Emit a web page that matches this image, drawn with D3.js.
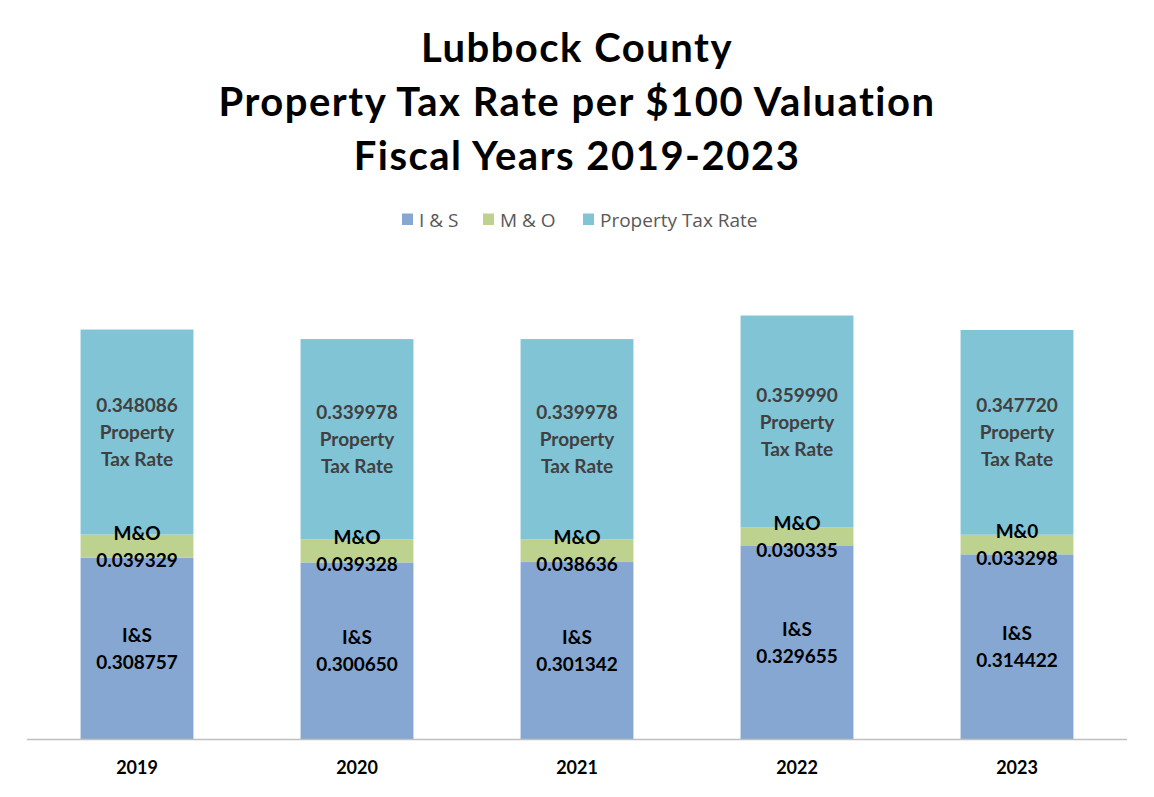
<!DOCTYPE html>
<html><head><meta charset="utf-8">
<script src="https://cdn.jsdelivr.net/npm/d3@7"></script>
<style>body{margin:0;background:#fff}svg{display:block}</style>
</head><body><svg id="c" width="1154" height="797"></svg>
<script>
const years = ["2019","2020","2021","2022","2023"];
const isValues = [0.308757, 0.300650, 0.301342, 0.329655, 0.314422];
const moValues = [0.039329, 0.039328, 0.038636, 0.030335, 0.033298];
const rateValues = [0.348086, 0.339978, 0.339978, 0.359990, 0.347720];
const moLabelNames = ["M&O","M&O","M&O","M&O","M&0"];
const seriesNames = ["I & S","M & O","Property Tax Rate"];
const seriesKeys = ["is","mo","rate"];
const colors = ["#85A7D2","#BCD28E","#80C4D6"];
const titleLines = ["Lubbock County","Property Tax Rate per $100 Valuation","Fiscal Years 2019-2023"];

const font = "Lato, 'Open Sans', sans-serif";
const svg = d3.select("#c");
const rows = years.map((y,i)=>({year:y, is:isValues[i], mo:moValues[i], rate:rateValues[i], moName:moLabelNames[i]}));
const stack = d3.stack().keys(seriesKeys)(rows);

const x = d3.scaleBand().domain(years).range([27,1127]).paddingInner(0.487).paddingOuter(0.2435);
const y = d3.scaleLinear().domain([0,0.8]).range([739.5,268.4]);

// title
svg.append("g").selectAll("text").data(titleLines).join("text")
  .attr("x",577).attr("y",(d,i)=>62+i*54).attr("text-anchor","middle")
  .attr("font-family",font).attr("font-weight","bold").attr("font-size",40)
  .attr("letter-spacing",1.5).attr("fill","#000")
  .text(d=>d);

// legend
const legItems = [{x:402},{x:483},{x:583}];
const leg = svg.append("g");
seriesNames.forEach((n,i)=>{
  leg.append("rect").attr("x",legItems[i].x).attr("y",213.5).attr("width",11).attr("height",11.5).attr("fill",colors[i]);
  leg.append("text").attr("x",legItems[i].x+17).attr("y",226.5).attr("font-family","'Open Sans', sans-serif")
    .attr("font-size",19).attr("fill","#595959").text(n);
});

// bars
svg.append("g").selectAll("g").data(stack).join("g").attr("fill",(d,i)=>colors[i])
  .selectAll("rect").data(d=>d).join("rect")
  .attr("x",d=>x(d.data.year)).attr("width",x.bandwidth())
  .attr("y",d=>y(d[1])).attr("height",d=>y(d[0])-y(d[1]));

// axis
const axis = svg.append("g").attr("transform","translate(0,739.5)")
  .call(d3.axisBottom(x).tickSize(0).tickPadding(22));
axis.select(".domain").attr("stroke","#BFBFBF").attr("stroke-width",1.5).attr("d","M27,0H1127");
axis.selectAll("text").attr("font-family",font).attr("font-weight","bold").attr("font-size",18).attr("fill","#000");

// labels
const lh = 27;
const lab = svg.append("g").attr("font-family",font).attr("font-weight","bold").attr("font-size",19).attr("text-anchor","middle");
function multi(lines, cx, cy, fill){
  const t = lab.append("text").attr("fill",fill);
  const n = lines.length;
  lines.forEach((l,k)=>{
    t.append("tspan").attr("x",cx).attr("y",cy + (k-(n-1)/2)*lh + 7).text(l);
  });
}
rows.forEach((r,i)=>{
  const cx = x(r.year)+x.bandwidth()/2;
  const s0 = stack[0][i], s1 = stack[1][i], s2 = stack[2][i];
  multi([ "I&S", r.is.toFixed(6)], cx, (y(s0[0])+y(s0[1]))/2, "#000");
  multi([ r.moName, r.mo.toFixed(6)], cx, (y(s1[0])+y(s1[1]))/2, "#000");
  multi([ r.rate.toFixed(6), "Property", "Tax Rate"], cx, (y(s2[0])+y(s2[1]))/2, "#404040");
});
</script></body></html>
